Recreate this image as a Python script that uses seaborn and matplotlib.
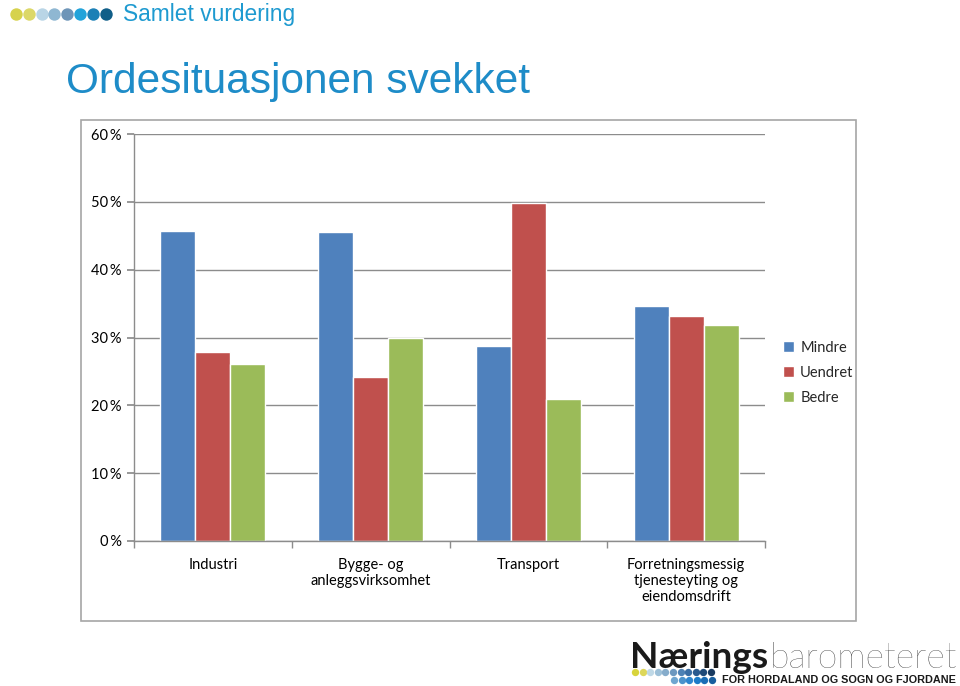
import matplotlib
matplotlib.use("Agg")
import matplotlib.pyplot as plt
import seaborn as sns
import pandas as pd
from matplotlib.ticker import FixedLocator, FuncFormatter
from matplotlib.patches import Rectangle

categories = ["Industri", "Bygge- og\nanleggsvirksomhet", "Transport",
              "Forretningsmessig\ntjenesteyting og\neiendomsdrift"]
series = ["Mindre", "Uendret", "Bedre"]
mindre = [45.7, 45.6, 28.8, 34.7]
uendret = [27.9, 24.2, 49.9, 33.2]
bedre = [26.1, 29.9, 20.9, 31.9]
yticks = [0, 10, 20, 30, 40, 50, 60]
colors = ["#4F81BD", "#C0504D", "#9BBB59"]

rows = []
for vals, s in zip([mindre, uendret, bedre], series):
    for c, v in zip(categories, vals):
        rows.append({"kategori": c, "serie": s, "verdi": v})
df = pd.DataFrame(rows)

sns.set_theme(style="white")
plt.rcParams["font.family"] = ["Lato", "DejaVu Sans"]

W, H = 960, 686
fig = plt.figure(figsize=(W / 100, H / 100), dpi=100)

# outer chart frame
fig.add_artist(Rectangle((81 / W, 1 - 621 / H), 775 / W, 501 / H,
                         transform=fig.transFigure, fill=False,
                         edgecolor="#A6A6A6", linewidth=1.2))

ax = fig.add_axes([134 / W, 1 - 541 / H, 631 / W, 407 / H])
sns.barplot(data=df, x="kategori", y="verdi", hue="serie", order=categories,
            hue_order=series, palette=colors, width=0.665, saturation=1,
            ax=ax, legend=True)
ax.set_xlim(-0.5, 3.5)
ax.set_ylim(0, 60)
ax.yaxis.set_major_locator(FixedLocator(yticks))
ax.yaxis.set_major_formatter(FuncFormatter(lambda v, p: f"{int(v)}\u2009%"))
ax.set_xlabel("")
ax.set_ylabel("")
ax.grid(axis="y", color="#8C8C8C", linewidth=1)
ax.set_axisbelow(True)
for s in ["top", "right"]:
    ax.spines[s].set_visible(False)
for s in ["left", "bottom"]:
    ax.spines[s].set_color("#8C8C8C")
    ax.spines[s].set_linewidth(1)
ax.tick_params(axis="y", which="major", length=5, color="#8C8C8C", direction="out",
               labelsize=10.5, labelcolor="#000000", pad=4, left=True)
ax.tick_params(axis="x", which="major", length=0, labelsize=10.5, labelcolor="#000000", pad=12)
ax.set_xticks([-0.5, 0.5, 1.5, 2.5, 3.5], minor=True)
ax.tick_params(axis="x", which="minor", length=5, color="#8C8C8C", direction="out", bottom=True)

leg = ax.legend(loc="center left", bbox_to_anchor=(1.028, 0.413), frameon=False,
                fontsize=10.5, handlelength=0.8, handleheight=0.8,
                handletextpad=0.4, labelspacing=0.75, borderaxespad=0, borderpad=0)

# decorations overlay in pixel coordinates
ov = fig.add_axes([0, 0, 1, 1], zorder=-1)
ov.set_xlim(0, W)
ov.set_ylim(H, 0)
ov.axis("off")
dot_cols = ["#D6D24C", "#DCD868", "#B9D5E6", "#8FB7D2", "#6E95B8", "#22A3DA", "#1C80B6", "#105E88"]
for i, c in enumerate(dot_cols):
    ov.scatter(16 + i * 12.8, 14, s=80, color=c, marker="o", linewidths=0)
ov.text(123, 15, "Samlet vurdering", fontsize=16.4, color="#1E9AD0",
        family=["Liberation Sans", "DejaVu Sans"], va="center", ha="left")
ov.text(66, 82, "Ordesituasjonen svekket", fontsize=30.5, color="#1E8CC8",
        family=["Liberation Sans", "DejaVu Sans"], va="center", ha="left")

renderer = fig.canvas.get_renderer()


def fit_text(x, y, s, target_w, size, **kw):
    t = ov.text(x, y, s, fontsize=size, **kw)
    w = t.get_window_extent(renderer=renderer).width
    t.set_fontsize(size * target_w / w)
    return t


# bottom-right logo
fit_text(630, 668, "Nærings", 138, 28, fontweight="bold", color="#1A1A1A",
         va="baseline", ha="left", family=["Lato", "DejaVu Sans"])
fit_text(770, 668, "barometeret", 188, 28, fontweight="light", color="#1A1A1A",
         va="baseline", ha="left", family=["Lato", "DejaVu Sans"])
row1 = ["#D8D43C", "#DDD75A", "#BFD8E6", "#9DC0D8", "#86ACCB", "#6C98BF", "#4E82B5",
        "#3A6EA4", "#2A5A8E", "#1F4A78", "#183A60"]
for i, c in enumerate(row1):
    ov.scatter(635 + i * 7.6, 672, s=28, color=c, marker="o", linewidths=0)
row2 = ["#6FA6D0", "#4C93CC", "#2F86CF", "#1C7BC8", "#1A6DB5", "#175E9E"]
for i, c in enumerate(row2):
    ov.scatter(674 + i * 7.6, 680, s=28, color=c, marker="o", linewidths=0)
fit_text(722, 680, "FOR HORDALAND OG SOGN OG FJORDANE", 234, 9, fontweight="bold",
         color="#1A1A1A", va="center", ha="left", family=["Liberation Sans", "DejaVu Sans"])

fig.savefig("out.png", dpi=100)
